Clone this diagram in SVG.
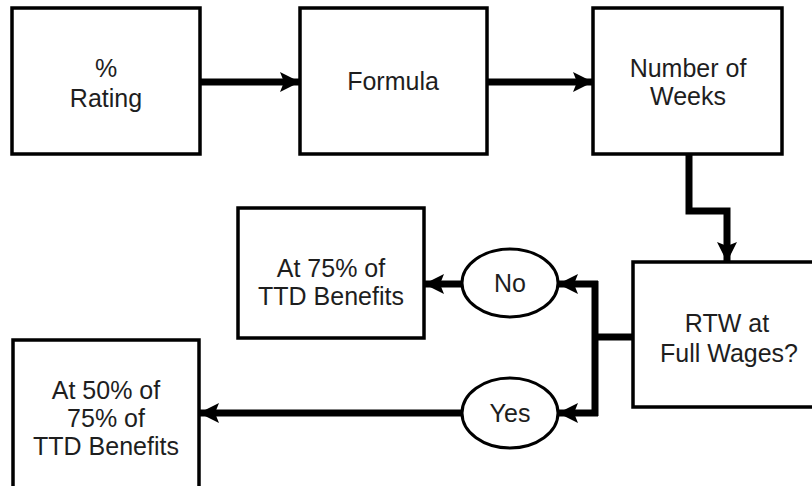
<svg xmlns="http://www.w3.org/2000/svg" width="812" height="486" viewBox="0 0 812 486">
  <defs>
    <marker id="head" markerUnits="userSpaceOnUse" viewBox="0 0 20 20" markerWidth="20" markerHeight="20" refX="20" refY="10" orient="auto">
      <path d="M0,0 L20,10 L0,20 L4,10 Z" fill="#000"/>
    </marker>
    <style>
      .box { fill: #fff; stroke: #000; stroke-width: 3.5; }
      .oval { fill: #fff; stroke: #000; stroke-width: 3; }
      .wire { fill: none; stroke: #000; stroke-width: 7; stroke-linejoin: miter; }
      .arrow { fill: none; stroke: #000; stroke-width: 7; marker-end: url(#head); }
      .lbl { font-family: "Liberation Sans", Arial, sans-serif; font-size: 25px; fill: #1e1e1e; text-anchor: middle; }
    </style>
  </defs>
  <rect width="812" height="486" fill="#fff"/>

  <!-- connectors -->
  <g id="connectors">
    <path class="arrow" d="M200,82 H300"/>
    <path class="arrow" d="M487,82 H593"/>
    <path class="arrow" d="M689,154 V211 H727 V262"/>
    <path class="wire" d="M633,337 H595"/>
    <path class="wire" d="M595,281 V416"/>
    <path class="arrow" d="M598,284 H558"/>
    <path class="arrow" d="M598,413 H558"/>
    <path class="arrow" d="M462,284 H424"/>
    <path class="arrow" d="M462,413 H199"/>
  </g>

  <g id="rating">
    <rect class="box" x="12" y="8" width="188" height="146"/>
    <text class="lbl" x="106" y="77">%</text>
    <text class="lbl" x="106" y="107">Rating</text>
  </g>

  <g id="formula">
    <rect class="box" x="300" y="8" width="187" height="146"/>
    <text class="lbl" x="393" y="90">Formula</text>
  </g>

  <g id="weeks">
    <rect class="box" x="593" y="8" width="189" height="146"/>
    <text class="lbl" x="688" y="77">Number of</text>
    <text class="lbl" x="688" y="105">Weeks</text>
  </g>

  <g id="rtw">
    <rect class="box" x="633" y="262" width="190" height="145"/>
    <text class="lbl" x="727" y="332">RTW at</text>
    <text class="lbl" x="729" y="362">Full Wages?</text>
  </g>

  <g id="no">
    <ellipse class="oval" cx="510" cy="283" rx="48" ry="34"/>
    <text class="lbl" x="510" y="292">No</text>
  </g>

  <g id="yes">
    <ellipse class="oval" cx="510" cy="413" rx="48" ry="35"/>
    <text class="lbl" x="510" y="422">Yes</text>
  </g>

  <g id="ttd75">
    <rect class="box" x="238" y="208" width="186" height="130"/>
    <text class="lbl" x="331" y="277">At 75% of</text>
    <text class="lbl" x="331" y="305">TTD Benefits</text>
  </g>

  <g id="ttd50">
    <rect class="box" x="13" y="340" width="186" height="152"/>
    <text class="lbl" x="106" y="399">At 50% of</text>
    <text class="lbl" x="106" y="427">75% of</text>
    <text class="lbl" x="106" y="455">TTD Benefits</text>
  </g>
</svg>
